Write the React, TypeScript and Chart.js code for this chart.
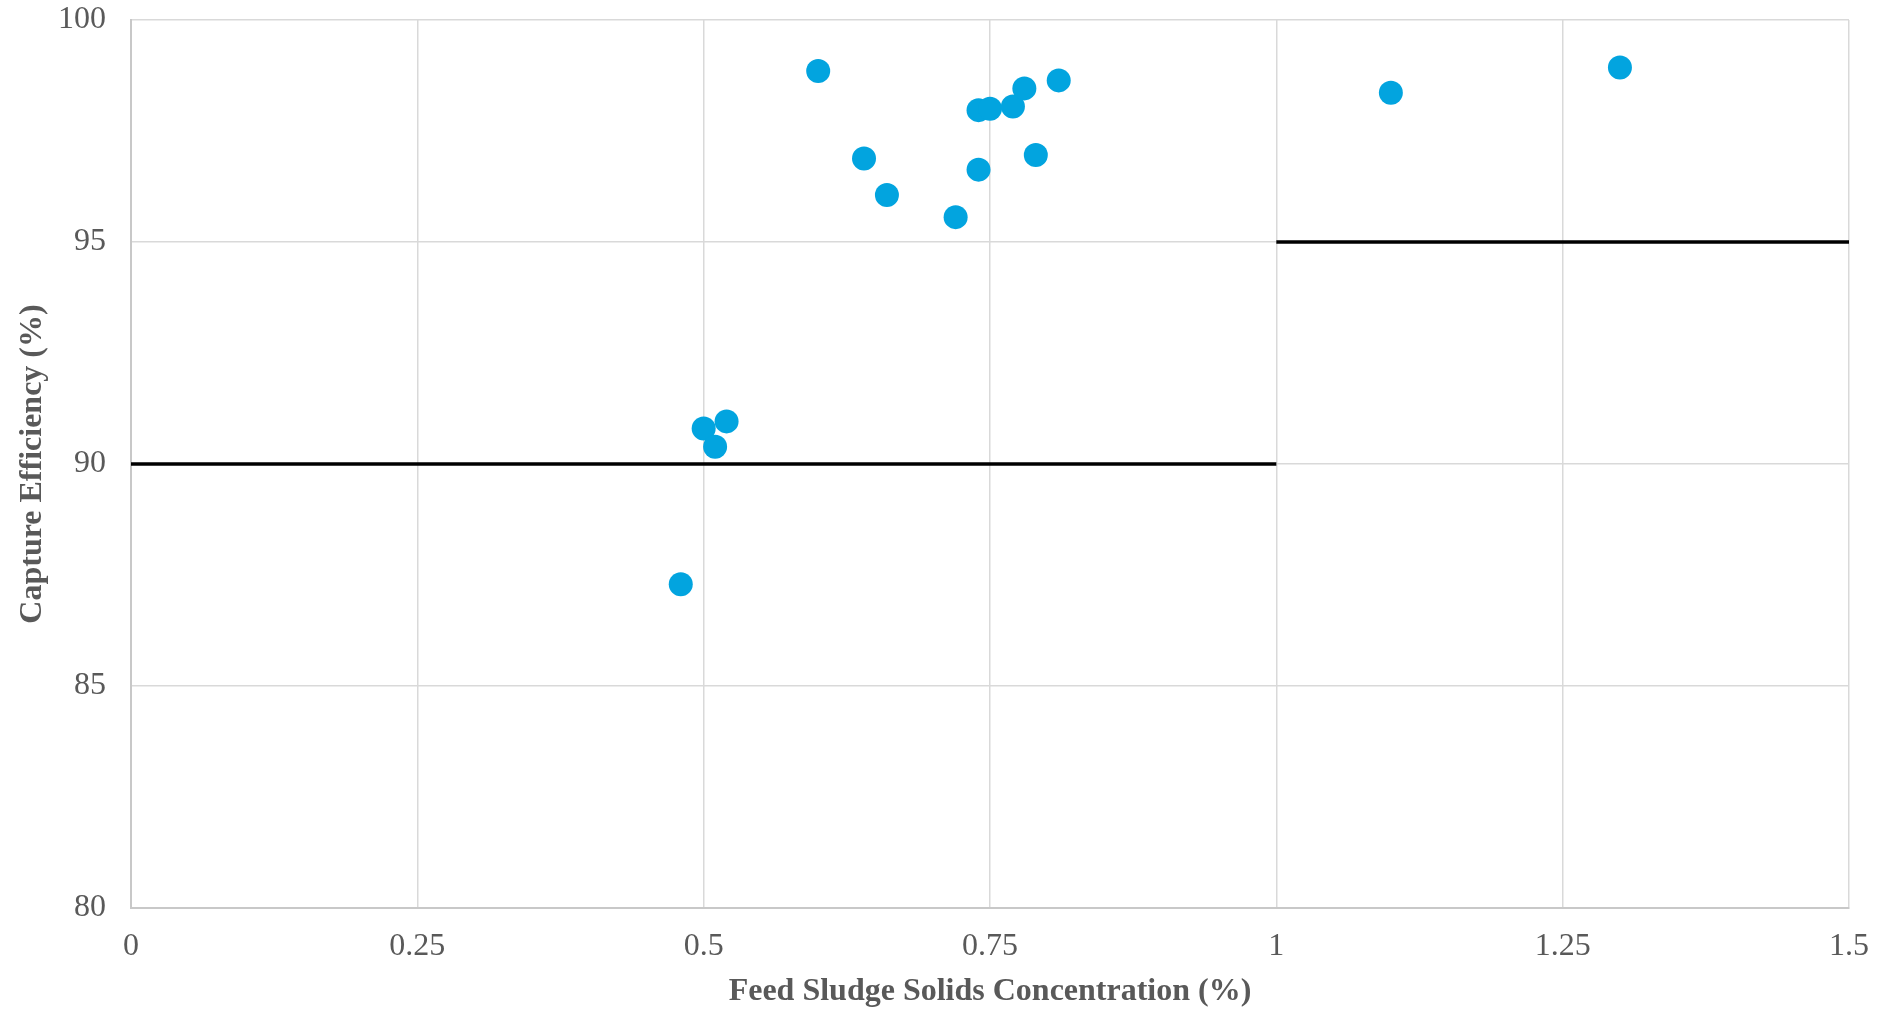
import React, { useEffect, useRef } from "react";
import { Chart, registerables } from "chart.js";

Chart.register(...registerables);

const sludgeSolids = [0.6, 0.64, 0.66, 0.72, 0.74, 0.75, 0.74, 0.77, 0.78, 0.79, 0.81, 0.5, 0.52, 0.51, 0.48, 1.1, 1.3];
const captureEfficiency = [98.85, 96.88, 96.06, 95.56, 97.97, 98.0, 96.63, 98.05, 98.46, 96.96, 98.64, 90.8, 90.96, 90.39, 87.29, 98.36, 98.93];

const limitLowX = [0, 1];
const limitLowY = [90, 90];
const limitHighX = [1, 1.5];
const limitHighY = [95, 95];

const xTicks = [0, 0.25, 0.5, 0.75, 1, 1.25, 1.5];
const yTicks = [80, 85, 90, 95, 100];

const xTitle = "Feed Sludge Solids Concentration (%)";
const yTitle = "Capture Efficiency (%)";

const FONT = "'Liberation Serif', 'Times New Roman', serif";
const GRAY = "#595959";

const zeroPadding = (scale: any) => {
  scale.paddingTop = 0;
  scale.paddingBottom = 0;
  scale.paddingLeft = 0;
  scale.paddingRight = 0;
};

export default function App() {
  const ref = useRef<HTMLCanvasElement | null>(null);

  useEffect(() => {
    if (!ref.current) return;
    const chart = new Chart(ref.current, {
      type: "scatter",
      data: {
        datasets: [
          {
            label: "Capture",
            data: sludgeSolids.map((x, i) => ({ x, y: captureEfficiency[i] })),
            backgroundColor: "#02A4DF",
            borderColor: "#02A4DF",
            pointRadius: 12,
            pointBorderWidth: 0,
            order: 1,
          },
          {
            type: "line",
            label: "Limit 1",
            data: limitLowX.map((x, i) => ({ x, y: limitLowY[i] })),
            borderColor: "#000000",
            borderWidth: 3.5,
            pointRadius: 0,
            showLine: true,
            fill: false,
            order: 2,
          } as any,
          {
            type: "line",
            label: "Limit 2",
            data: limitHighX.map((x, i) => ({ x, y: limitHighY[i] })),
            borderColor: "#000000",
            borderWidth: 3.5,
            pointRadius: 0,
            showLine: true,
            fill: false,
            order: 2,
          } as any,
        ],
      },
      options: {
        animation: false,
        responsive: false,
        maintainAspectRatio: false,
        layout: { padding: { left: 0, right: 31, top: 20, bottom: 0 } },
        plugins: {
          legend: { display: false },
          tooltip: { enabled: false },
        },
        scales: {
          x: {
            type: "linear",
            min: 0,
            max: 1.5,
            afterBuildTicks: (scale: any) => {
              scale.ticks = xTicks.map((v) => ({ value: v }));
            },
            afterFit: (scale: any) => {
              scale.height = 103;
              zeroPadding(scale);
            },
            grid: { color: "#d9d9d9", lineWidth: 1.5, drawTicks: false },
            border: { color: "#c8c8c8", width: 2 },
            ticks: {
              color: GRAY,
              font: { family: FONT, size: 32 },
              padding: 19,
              maxRotation: 0,
              callback: (v: any) => String(v),
            },
            title: {
              display: true,
              text: xTitle,
              color: GRAY,
              font: { family: FONT, size: 32, weight: "bold" },
              padding: { top: 0, bottom: 0 },
            },
          },
          y: {
            type: "linear",
            min: 80,
            max: 100,
            afterBuildTicks: (scale: any) => {
              scale.ticks = yTicks.map((v) => ({ value: v }));
            },
            afterFit: (scale: any) => {
              scale.width = 131;
              zeroPadding(scale);
            },
            grid: { color: "#d9d9d9", lineWidth: 1.5, drawTicks: false },
            border: { color: "#c8c8c8", width: 2 },
            ticks: {
              color: GRAY,
              font: { family: FONT, size: 32 },
              padding: 25,
              callback: (v: any) => String(v),
            },
            title: {
              display: true,
              text: yTitle,
              color: GRAY,
              font: { family: FONT, size: 32, weight: "bold" },
              padding: { top: 14, bottom: 0 },
            },
          },
        },
      },
    });
    return () => chart.destroy();
  }, []);

  return (
    <div style={{ position: "fixed", left: 0, top: 0, width: 1880, height: 1011, background: "#fff" }}>
      <canvas ref={ref} width={1880} height={1011} style={{ width: 1880, height: 1011, display: "block" }} />
    </div>
  );
}
